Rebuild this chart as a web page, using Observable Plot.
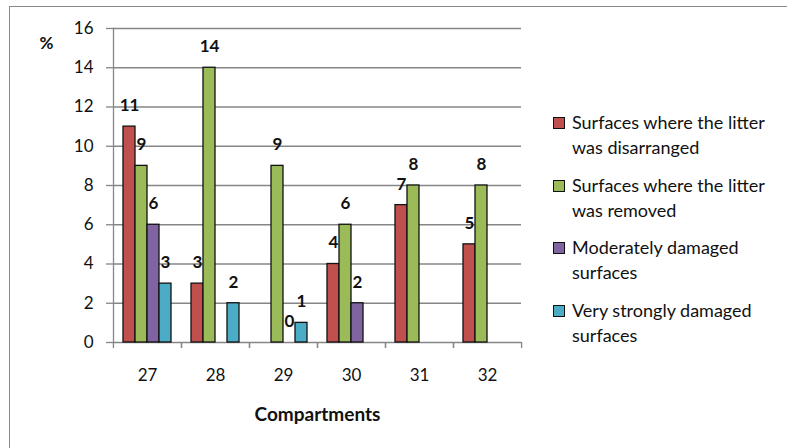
<!DOCTYPE html>
<html>
<head>
<meta charset="utf-8">
<script src="https://cdn.jsdelivr.net/npm/d3@7"></script>
<script src="https://cdn.jsdelivr.net/npm/@observablehq/plot@0.6"></script>
<style>
  html, body { margin: 0; padding: 0; background: #fff; }
  #chart { position: relative; width: 787px; height: 448px; overflow: hidden; font-family: Lato, "Open Sans", sans-serif; }
  #chart svg { position: absolute; left: 0; top: 0; }
  #border { position: absolute; left: 9px; top: 6px; width: 800px; height: 460px;
            border-left: 1.5px solid #8a8a8a; border-top: 1.5px solid #8a8a8a; pointer-events: none; }
  #legend { position: absolute; left: 553px; top: 110px; color: #111; font-size: 18px; line-height: 25px; }
  .item { display: flex; align-items: flex-start; margin-bottom: 12.5px; white-space: nowrap; }
  .swatch { width: 10px; height: 10px; border: 1px solid #111; margin-top: 7px; margin-right: 7px; flex: none; }
  g[aria-label="fx-axis label"] text { font-weight: bold; font-size: 19px; }
</style>
</head>
<body>
<div id="chart"><div id="border"></div><div id="legend"></div></div>
<script>
// Compartments on the horizontal axis
const compartments = ["27", "28", "29", "30", "31", "32"];

// Damage categories (legend entries) and their colours
const seriesNames = [
  "Surfaces where the litter was disarranged",
  "Surfaces where the litter was removed",
  "Moderately damaged surfaces",
  "Very strongly damaged surfaces"
];
const legendLines = [
  ["Surfaces where the litter", "was disarranged"],
  ["Surfaces where the litter", "was removed"],
  ["Moderately damaged", "surfaces"],
  ["Very strongly  damaged", "surfaces"]
];
const seriesColors = ["#C0504D", "#9BBB59", "#8064A2", "#4BACC6"];

// Percentages per compartment (null = not reported)
const disarranged = [11, 3, null, 4, 7, 5];
const removed     = [9, 14, 9, 6, 8, 8];
const moderate    = [6, null, 0, 2, null, null];
const veryStrong  = [3, 2, 1, null, null, null];

// Y axis ticks
const yTicks = [0, 2, 4, 6, 8, 10, 12, 14, 16];

const allSeries = [disarranged, removed, moderate, veryStrong];
const rows = allSeries.flatMap((vals, i) =>
  vals.map((v, j) => ({compartment: compartments[j], series: seriesNames[i], value: v}))
).filter(d => d.value != null);

const W = 787, H = 448;
const mL = 112, mR = 266, mT = 28, mB = 106;
const halfStep = (W - mL - mR) / compartments.length / 2;
const gridColor = "#868686";

const chart = Plot.plot({
  width: W,
  height: H,
  marginLeft: mL,
  marginRight: mR,
  marginTop: mT,
  marginBottom: mB,
  style: {fontFamily: "Lato, 'Open Sans', sans-serif", fontSize: "17px", color: "#111", background: "transparent"},
  fx: {domain: compartments, padding: 0},
  x: {domain: seriesNames, paddingInner: 0, paddingOuter: 0.75, axis: null},
  y: {domain: [0, 16]},
  color: {domain: seriesNames, range: seriesColors},
  marks: [
    Plot.gridY(yTicks, {stroke: gridColor, strokeOpacity: 1, strokeWidth: 1.3}),
    Plot.frame({anchor: "left", facetAnchor: "left", stroke: gridColor, strokeWidth: 1.3}),
    Plot.axisY(yTicks, {tickSize: 7, tickPadding: 13, stroke: gridColor, strokeWidth: 1.3, label: null}),
    // y-axis unit label, drawn once beside the top of the axis
    Plot.text(["%"], {
      frameAnchor: "top-left", facetAnchor: "left", dx: -74, dy: 8,
      fontWeight: "bold", fontSize: 17, fill: "#111"
    }),
    Plot.axisFx({
      anchor: "bottom", tickSize: 0, tickPadding: 26, label: "Compartments",
      labelAnchor: "center", labelArrow: "none", labelOffset: 78
    }),
    Plot.axisFx({anchor: "bottom", tickSize: 6, text: null, label: null, dx: halfStep, stroke: gridColor, strokeWidth: 1.3}),
    Plot.axisFx({anchor: "bottom", tickSize: 6, text: null, label: null, dx: -halfStep, stroke: gridColor, strokeWidth: 1.3}),
    Plot.barY(rows.filter(d => d.value > 0), {
      fx: "compartment", x: "series", y: "value", fill: "series",
      stroke: "#111", strokeWidth: 1.3
    }),
    Plot.text(rows, {
      fx: "compartment", x: "series", y: "value", text: d => String(d.value),
      dy: -21, fontWeight: "bold", fontSize: 17, fill: "#111"
    })
  ]
});

document.getElementById("chart").appendChild(chart);

// Legend
const legend = d3.select("#legend");
seriesNames.forEach((name, i) => {
  const item = legend.append("div").attr("class", "item");
  item.append("div").attr("class", "swatch").style("background", seriesColors[i]);
  item.append("div").html(legendLines[i].join("<br>"));
});
</script>
</body>
</html>
